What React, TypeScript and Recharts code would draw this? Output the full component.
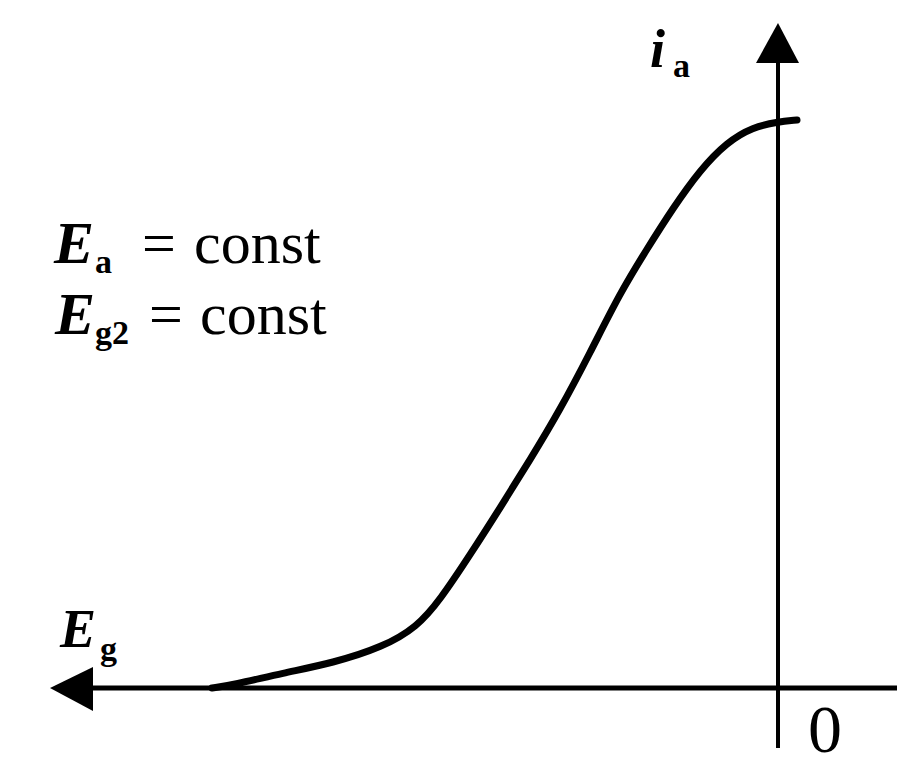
import React from 'react';
import {
  ComposedChart,
  Line,
  XAxis,
  YAxis,
  ReferenceLine,
  ReferenceDot,
  Customized,
} from 'recharts';

// grid voltage Eg (negative to the left) and anode current ia
const egValues = [
  -11.32, -10.9, -9.9, -8.9, -7.9, -7.22, -6.76, -6.16, -5.56, -4.96, -4.36,
  -3.76, -3.16, -2.62, -2.1, -1.56, -1.02, -0.5, -0.02, 0.38,
];
const iaValues = [
  0, 0.03, 0.15, 0.25, 0.41, 0.61, 0.88, 1.33, 1.8, 2.28, 2.78, 3.35, 3.95,
  4.39, 4.8, 5.18, 5.46, 5.61, 5.66, 5.68,
];

// axis extents (data units)
const egAxisLeft = -14.56;
const egAxisRight = 2.38;
const iaAxisTop = 6.65;
const iaAxisBottom = -0.6;

const W = 911;
const H = 779;
const X_MIN = -15.56;
const X_MAX = 2.66;
const Y_MIN = -0.91;
const Y_MAX = 6.88;

const data = egValues.map((eg, i) => ({ eg, ia: iaValues[i] }));

const LeftArrow = (props: any) => {
  const { cx, cy } = props;
  return (
    <polygon
      points={`${cx},${cy} ${cx + 43},${cy - 21} ${cx + 43},${cy + 23}`}
      fill="#000"
    />
  );
};

const UpArrow = (props: any) => {
  const { cx, cy } = props;
  return (
    <polygon
      points={`${cx},${cy} ${cx - 22},${cy + 40} ${cx + 21},${cy + 40}`}
      fill="#000"
    />
  );
};

const serif = '"Liberation Serif", "Times New Roman", serif';

const Labels = () => (
  <g fontFamily={serif} fill="#000">
    <text x={650} y={67} fontSize={54} fontStyle="italic" fontWeight="bold">i</text>
    <text x={673} y={77} fontSize={34} fontWeight="bold">a</text>

    <text x={54} y={263} fontSize={60} fontStyle="italic" fontWeight="bold">E</text>
    <text x={95} y={273} fontSize={34} fontWeight="bold">a</text>
    <text x={142} y={263} fontSize={60}>=</text>
    <text x={194} y={263} fontSize={60}>const</text>

    <text x={55} y={334} fontSize={60} fontStyle="italic" fontWeight="bold">E</text>
    <text x={95} y={344} fontSize={34} fontWeight="bold">g2</text>
    <text x={149} y={334} fontSize={60}>=</text>
    <text x={200} y={334} fontSize={60}>const</text>

    <text x={60} y={647} fontSize={54} fontStyle="italic" fontWeight="bold">E</text>
    <text x={100} y={660} fontSize={34} fontWeight="bold">g</text>

    <text x={808} y={752} fontSize={68}>0</text>
  </g>
);

export default function App() {
  return (
    <div style={{ position: 'absolute', left: 0, top: 0, background: '#fff' }}>
      <ComposedChart
        width={W}
        height={H}
        data={data}
        margin={{ top: 0, right: 0, bottom: 0, left: 0 }}
      >
        <XAxis type="number" dataKey="eg" domain={[X_MIN, X_MAX]} hide allowDataOverflow />
        <YAxis type="number" domain={[Y_MIN, Y_MAX]} hide allowDataOverflow />

        <ReferenceLine
          segment={[{ x: egAxisLeft + 0.5, y: 0 }, { x: egAxisRight, y: 0 }]}
          stroke="#000"
          strokeWidth={5}
        />
        <ReferenceLine
          segment={[{ x: 0, y: iaAxisTop - 0.3 }, { x: 0, y: iaAxisBottom }]}
          stroke="#000"
          strokeWidth={4}
        />
        <ReferenceDot x={egAxisLeft} y={0} shape={LeftArrow} />
        <ReferenceDot x={0} y={iaAxisTop} shape={UpArrow} />

        <Line
          type="basis"
          dataKey="ia"
          stroke="#000"
          strokeWidth={7}
          strokeLinecap="round"
          dot={false}
          activeDot={false}
          isAnimationActive={false}
        />
        <Customized component={Labels} />
      </ComposedChart>
    </div>
  );
}
